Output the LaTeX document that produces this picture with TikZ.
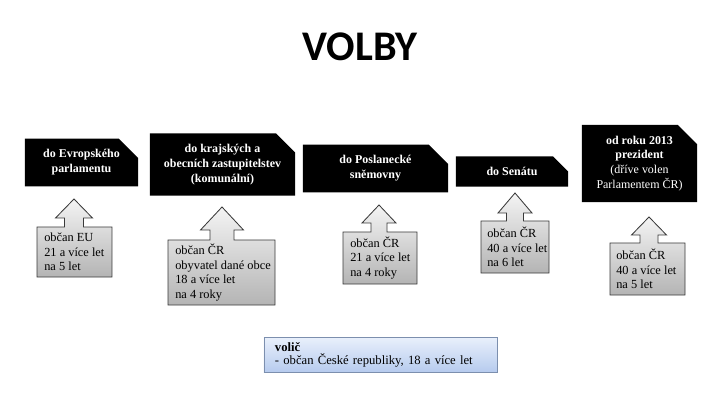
\documentclass[tikz,border=0pt]{standalone}
\usepackage{fontspec}
\setmainfont{Liberation Serif}
\newfontfamily\titlefont{Carlito}
\usetikzlibrary{shapes.misc}
\definecolor{calloutline}{HTML}{3a3a3a}
\definecolor{callouttop}{HTML}{f4f4f4}
\definecolor{calloutbot}{HTML}{b4b4b4}
\definecolor{voterline}{HTML}{7c8fae}
\definecolor{votertop}{HTML}{e8effb}
\definecolor{voterbot}{HTML}{b6cbee}
\tikzset{
  office/.style={chamfered rectangle, chamfered rectangle corners=north east,
    chamfered rectangle xsep=0.24cm, chamfered rectangle ysep=0.24cm,
    fill=black, text=white, align=center, inner sep=1pt,
    font=\fontsize{8.5}{10.5}\selectfont\bfseries},
  callout/.style={draw=calloutline, line width=0.6pt, top color=callouttop, bottom color=calloutbot},
  callouttext/.style={anchor=west, align=left, inner sep=0pt, font=\fontsize{8.8}{10.3}\selectfont},
}
\begin{document}
\begin{tikzpicture}[x=0.025cm, y=-0.025cm]
\useasboundingbox (0,0) rectangle (720,405);
\node[font=\titlefont\fontsize{30}{30}\selectfont\bfseries] (title) at (360,47) {VOLBY};
% volebni organy
\node[office, minimum width=2.825cm, minimum height=1.025cm] (evp) at (81.5,162.5) {do Evropského\\parlamentu};
\node[office, minimum width=3.625cm, minimum height=1.425cm] (kraj) at (222.5,164.5) {do krajských a\\obecních zastupitelstev\\(komunální)};
\node[office, minimum width=3.625cm, minimum height=1.075cm] (psp) at (375.5,168.5) {do Poslanecké\\sněmovny};
\node[office, minimum width=2.8cm, minimum height=0.675cm] (senat) at (512,171.5) {do Senátu};
\node[office, minimum width=2.875cm, minimum height=1.875cm] (prez) at (639.5,163.5) {od roku 2013\\prezident\\{\mdseries (dříve volen}\\{\mdseries Parlamentem ČR)}};
% sipky s podminkami
\foreach \xa/\xb/\ya/\yb/\tx/\ty/\wy/\w/\s in {37/112/227/277/74/199/218/18.5/9.5, 168/275/240/305/222/207/230/21.5/12, 343/417/232/284/379/205/223/17/8, 481/549/221/273/515/193/213/17/8.5, 610/685/243/295/649/217/235/17.5/9}
  \draw[callout] (\xa,\ya) -- (\tx-\s,\ya) -- (\tx-\s,\wy) -- (\tx-\w,\wy) -- (\tx,\ty) -- (\tx+\w,\wy) -- (\tx+\s,\wy) -- (\tx+\s,\ya) -- (\xb,\ya) -- (\xb,\yb) -- (\xa,\yb) -- cycle;
\node[callouttext] (cevp) at (44,252) {občan EU\\21 a více let\\na 5 let};
\node[callouttext] (ckraj) at (175,272.5) {občan ČR\\obyvatel dané obce\\18 a více let\\na 4 roky};
\node[callouttext] (cpsp) at (350,258) {občan ČR\\21 a více let\\na 4 roky};
\node[callouttext] (csenat) at (487,247) {občan ČR\\40 a více let\\na 6 let};
\node[callouttext] (cprez) at (616,269) {občan ČR\\40 a více let\\na 5 let};
% volic
\node[draw=voterline, line width=0.6pt, top color=votertop, bottom color=voterbot, text width=5.275cm, inner xsep=0.275cm, minimum height=0.85cm, align=left, font=\fontsize{9}{9.6}\selectfont] (volic) at (380.5,355) {\textbf{volič}\\- občan České republiky, 18 a více let};
\end{tikzpicture}
\end{document}
